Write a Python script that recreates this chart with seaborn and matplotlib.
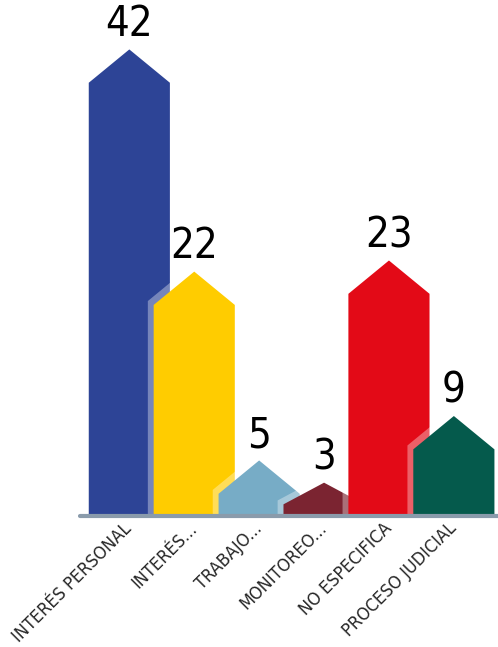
import matplotlib
matplotlib.use("Agg")
import matplotlib.pyplot as plt
from matplotlib.patches import Polygon
import seaborn as sns
import pandas as pd

categories = ["INTERÉS PERSONAL", "INTERÉS...", "TRABAJO...", "MONITOREO...",
              "NO ESPECIFICA", "PROCESO JUDICIAL"]
values = [42, 22, 5, 3, 23, 9]
colors = ["#2d4496", "#ffcc00", "#77acc6", "#7b2431", "#e30a17", "#055a4c"]

sns.set_style("white")
plt.rcParams["font.family"] = ["DejaVu Sans"]
plt.rcParams["font.stretch"] = "condensed"

df = pd.DataFrame({"cat": categories, "val": values})

fig = plt.figure(figsize=(4.98, 6.47), dpi=100)
ax = fig.add_axes([80 / 498, 131 / 647, 418 / 498, 511 / 647])

sns.barplot(data=df, x="cat", y="val", hue="cat", palette=colors,
            width=1.25, saturation=1, legend=False, ax=ax)

ax.set_xlim(-0.76, 5.68)
ax.set_ylim(0, 46)

# turn the plain bars into house shaped ones with a soft white shadow
bars = list(ax.patches)
for i, bar in enumerate(bars):
    x0 = bar.get_x()
    w = bar.get_width()
    h = bar.get_height()
    col = bar.get_facecolor()
    bar.remove()
    head = min(3.0, 0.65 * h)
    pts = [(x0, 0), (x0, h - head), (x0 + w / 2, h), (x0 + w, h - head), (x0 + w, 0)]
    shadow = [(px - 0.09, py + (0.35 if py > 0 else 0)) for px, py in pts]
    ax.add_patch(Polygon(shadow, closed=True, facecolor="white", alpha=0.35,
                         edgecolor="none", zorder=2 * i + 1))
    ax.add_patch(Polygon(pts, closed=True, facecolor=col, edgecolor="none",
                         zorder=2 * i + 2))
    ax.annotate(str(values[i]), (x0 + w / 2, h), xytext=(0, 3),
                textcoords="offset points", ha="center", va="bottom",
                fontsize=30, color="black", zorder=30)

ax.axhline(0, color="#8a9bab", lw=3, zorder=40, clip_on=False)

ax.set_xticks(range(len(categories)))
ax.set_xticklabels(categories, rotation=45, ha="right", va="center",
                   rotation_mode="anchor", fontsize=13)
ax.tick_params(axis="x", length=0, pad=7)
ax.set_yticks([])
ax.set_xlabel("")
ax.set_ylabel("")
sns.despine(ax=ax, left=True, bottom=True)

fig.savefig("out.png", dpi=100)
